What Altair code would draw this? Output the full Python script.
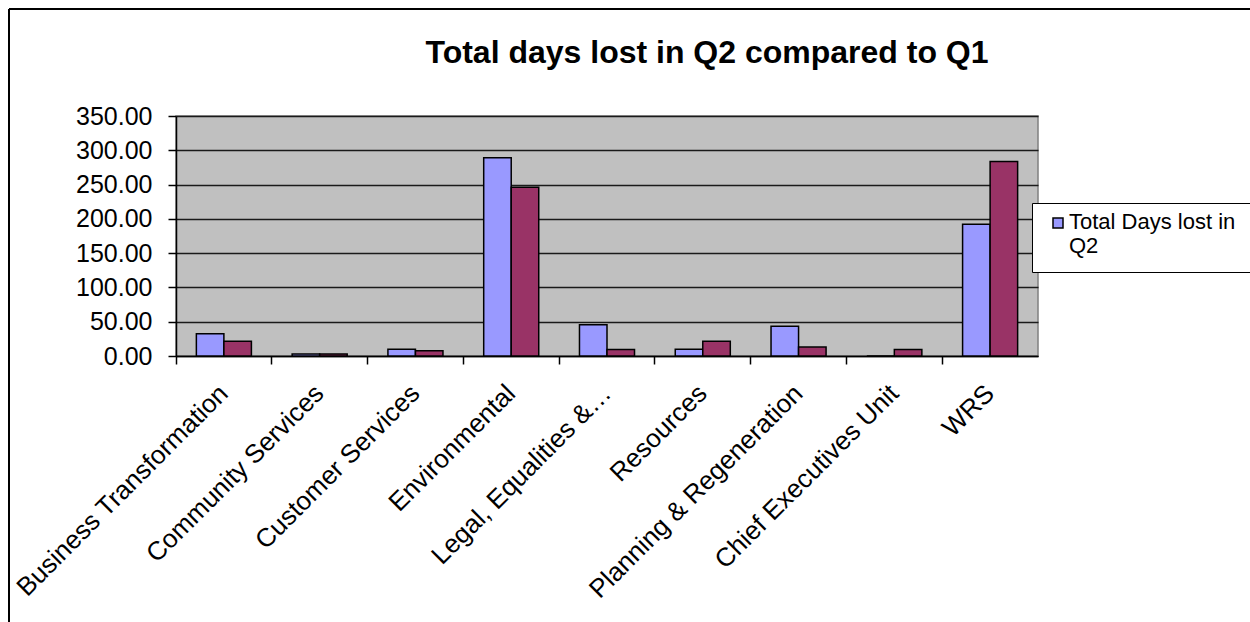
import altair as alt
import pandas as pd

categories = [
    "Business Transformation",
    "Community Services",
    "Customer Services",
    "Environmental",
    "Legal, Equalities &…",
    "Resources",
    "Planning & Regeneration",
    "Chief Executives Unit",
    "WRS",
]
q2_days = [32.5, 3.0, 10.0, 289.0, 45.5, 10.0, 43.5, 0.0, 192.0]
q1_days = [21.5, 3.0, 7.5, 246.0, 9.5, 21.5, 13.0, 9.5, 283.5]
series_names = ["Total Days lost in Q2", "Total Days lost in Q1"]
series_colors = ["#9999FF", "#993366"]
y_ticks = [0, 50, 100, 150, 200, 250, 300, 350]

rows = []
for c, a, b in zip(categories, q2_days, q1_days):
    rows.append({"Department": c, "Series": series_names[0], "Days": a})
    rows.append({"Department": c, "Series": series_names[1], "Days": b})
df = pd.DataFrame(rows)

FONT = "Liberation Sans"

# square legend symbol drawn a little above the label's baseline,
# with an invisible move-to that widens the legend's left margin
LEGEND_SYMBOL = "M-1.2,-2.2 M-1,-2.2 H1 V-0.2 H-1 Z"

bars = alt.Chart(df).mark_bar(stroke="black", strokeWidth=1.5).encode(
    x=alt.X(
        "Department:N",
        sort=categories,
        scale=alt.Scale(paddingInner=0, paddingOuter=0),
        axis=alt.Axis(
            title=None,
            orient="bottom",
            labelAngle=-45,
            labelAlign="right",
            labelBaseline="middle",
            labelFontSize=26,
            labelFont=FONT,
            labelColor="black",
            labelPadding=33,
            labelLimit=400,
            ticks=False,
            domainColor="black",
            domainWidth=1.5,
        ),
    ),
    xOffset=alt.XOffset(
        "Series:N",
        sort=series_names,
        scale=alt.Scale(paddingInner=0, paddingOuter=0.74),
    ),
    y=alt.Y(
        "Days:Q",
        scale=alt.Scale(domain=[0, 350], nice=False),
        axis=alt.Axis(
            title=None,
            values=y_ticks,
            format=".2f",
            labelFontSize=25,
            labelFont=FONT,
            labelColor="black",
            labelPadding=16,
            labelOverlap=False,
            labelBound=False,
            labelFlush=False,
            tickSize=8,
            tickColor="black",
            tickWidth=1.5,
            domainColor="black",
            domainWidth=1.5,
            grid=True,
            gridColor="#1a1a1a",
            gridWidth=1.3,
        ),
    ),
    color=alt.Color(
        "Series:N",
        sort=series_names,
        scale=alt.Scale(domain=series_names, range=series_colors),
        legend=alt.Legend(
            title=None,
            values=[series_names[0]],
            orient="none",
            legendX=856,
            legendY=87,
            labelExpr="datum.label == 'Total Days lost in Q2' ? ['Total Days lost in', 'Q2'] : datum.label",
            labelFontSize=22,
            labelFont=FONT,
            labelColor="black",
            labelLimit=300,
            labelBaseline="alphabetic",
            labelOffset=0,
            symbolType=LEGEND_SYMBOL,
            symbolSize=100,
            symbolStrokeColor="black",
            symbolStrokeWidth=1.5,
            symbolOpacity=1,
            fillColor="white",
            strokeColor="black",
            padding=15,
            cornerRadius=0,
        ),
    ),
)

# x-axis ticks at category boundaries (no y channel: the bars span the view)
tick_axis = alt.Chart(df).mark_bar(opacity=0).encode(
    x=alt.X(
        "Department:N",
        sort=categories,
        scale=alt.Scale(paddingInner=0, paddingOuter=0),
        axis=alt.Axis(
            title=None,
            orient="bottom",
            labels=False,
            bandPosition=0,
            tickSize=8,
            tickColor="black",
            tickWidth=1.5,
            domain=False,
        ),
    ),
)

# outer frame lines of the chart object
frame = pd.DataFrame({"k": [0]})
top_line = alt.Chart(frame).mark_rule(color="black", strokeWidth=2).encode(
    x=alt.value(-167), x2=alt.value(1100), y=alt.value(-107)
)
left_line = alt.Chart(frame).mark_rule(color="black", strokeWidth=2).encode(
    x=alt.value(-167), y=alt.value(-107), y2=alt.value(600)
)

chart = (
    alt.layer(tick_axis, bars, top_line, left_line)
    .resolve_axis(x="independent")
    .properties(
        width=862,
        height=240,
        padding={"left": 176, "top": 116, "right": 212, "bottom": 266},
        autosize=alt.AutoSizeParams(type="none"),
        title=alt.TitleParams(
            "Total days lost in Q2 compared to Q1",
            fontSize=32,
            font=FONT,
            fontWeight="bold",
            color="black",
            anchor="middle",
            dx=100,
            dy=62,
            offset=0,
        ),
        background="white",
    )
    .configure_view(fill="#C0C0C0", stroke="#808080", strokeWidth=1.5)
    .configure_axis(gridDash=[])
)

chart.save("out.html", embed_options={"renderer": "svg", "actions": False})
